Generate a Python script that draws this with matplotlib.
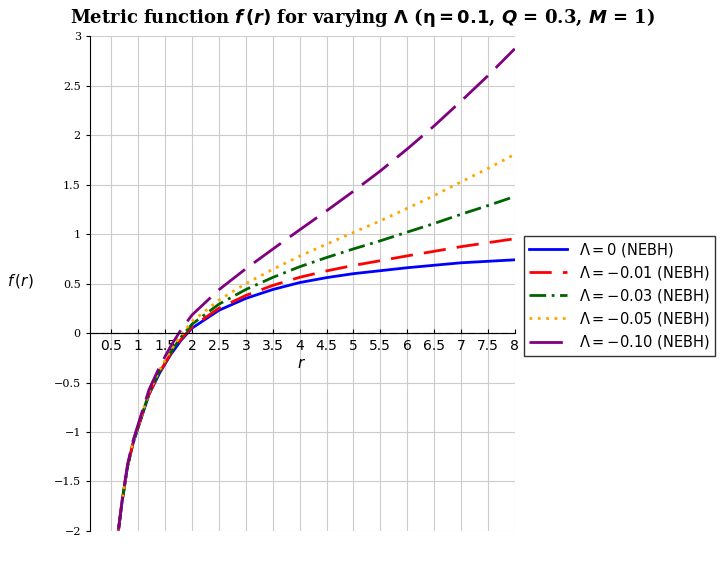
import matplotlib
matplotlib.use("Agg")
import matplotlib.pyplot as plt
import numpy as np

r = [0.63,0.7,0.8,0.9,1,1.2,1.4,1.6,1.8,2,2.5,3,3.5,4,4.5,5,5.5,6,6.5,7,7.5,8]
f_l0 = [-2.0,-1.7,-1.35,-1.12,-0.95,-0.62,-0.40,-0.22,-0.07,0.05,0.23,0.35,0.44,0.51,0.56,0.60,0.63,0.66,0.685,0.71,0.725,0.74]
f_l001 = [-1.999,-1.698,-1.348,-1.117,-0.947,-0.615,-0.393,-0.211,-0.059,0.063,0.251,0.38,0.481,0.563,0.628,0.683,0.731,0.78,0.826,0.873,0.913,0.953]
f_l003 = [-1.996,-1.695,-1.344,-1.112,-0.94,-0.606,-0.38,-0.195,-0.038,0.09,0.292,0.44,0.562,0.67,0.763,0.85,0.932,1.02,1.107,1.2,1.288,1.38]
f_l005 = [-1.994,-1.692,-1.34,-1.107,-0.933,-0.596,-0.368,-0.178,-0.016,0.117,0.334,0.5,0.644,0.777,0.898,1.017,1.134,1.26,1.389,1.527,1.663,1.807]
f_l010 = [-1.987,-1.684,-1.329,-1.093,-0.917,-0.572,-0.335,-0.135,0.038,0.183,0.438,0.65,0.848,1.043,1.235,1.433,1.638,1.86,2.093,2.343,2.6,2.873]
labels = [r"$\Lambda = 0$ (NEBH)", r"$\Lambda = -0.01$ (NEBH)", r"$\Lambda = -0.03$ (NEBH)",
          r"$\Lambda = -0.05$ (NEBH)", r"$\Lambda = -0.10$ (NEBH)"]
xticks = [0.5,1,1.5,2,2.5,3,3.5,4,4.5,5,5.5,6,6.5,7,7.5,8]
yticks = [-2,-1.5,-1,-0.5,0,0.5,1,1.5,2,2.5,3]

fig = plt.figure(figsize=(7.25,5.66), dpi=100)
ax = fig.add_axes([0.124,0.062,0.586,0.874])
styles = [dict(color="#0000ff", ls="-"),
          dict(color="#ff0000", ls=(0,(8,4))),
          dict(color="#006400", ls=(0,(6,2,1,2))),
          dict(color="#ffa500", ls=(0,(1,2))),
          dict(color="#800080", ls=(0,(12,4)))]
for ys, lab, st in zip([f_l0,f_l001,f_l003,f_l005,f_l010], labels, styles):
    ax.plot(r, ys, lw=2, label=lab, **st)
ax.axhline(0, color="black", ls=(0,(6,4)), lw=0.8)
ax.set_xlim(0.1,8); ax.set_ylim(-2,3)
ax.set_xticks(xticks); ax.set_yticks(yticks)
ax.set_xticklabels([f"{t:g}" for t in xticks], family="DejaVu Serif", fontsize=8)
ax.set_yticklabels([f"{t:g}".replace("-","\u2212") for t in yticks], family="DejaVu Serif", fontsize=8)
ax.grid(True, color="#cccccc", lw=0.8)
for s in ["top","right"]:
    ax.spines[s].set_visible(False)
ax.spines["bottom"].set_position(("data",0))
ax.spines["bottom"].set_linewidth(0.8)
ax.tick_params(axis="x", direction="in", length=3, pad=4)
ax.tick_params(axis="y", direction="out", length=3)
fig.text(0.416, 0.35, r"$r$", fontsize=11, ha="center")
fig.text(0.028, 0.496, r"$f\,(r)$", fontsize=11, ha="center")
fig.suptitle(r"Metric function $\boldsymbol{f\,(r)}$ for varying $\mathbf{\Lambda}$ ($\mathbf{\eta = 0.1}$, $\boldsymbol{Q}$ = 0.3, $\boldsymbol{M}$ = 1)",
             x=0.5, y=0.99, fontsize=13, fontweight="bold", family="DejaVu Serif")
ax.legend(loc="center left", bbox_to_anchor=(1.005,0.475), frameon=True, fancybox=False,
          edgecolor="black", fontsize=10.5, handlelength=2.6, borderpad=0.35, labelspacing=0.35)
fig.savefig("out.png", dpi=100)
